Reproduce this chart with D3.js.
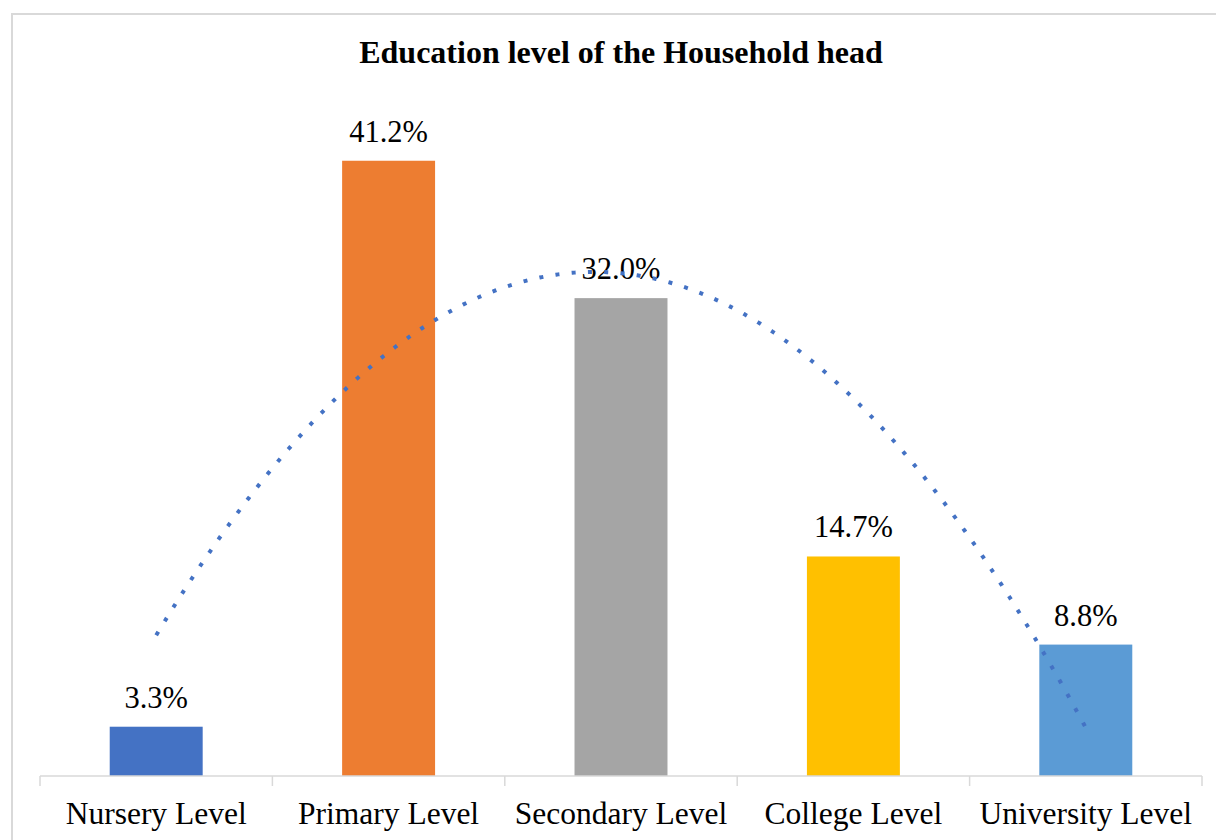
<!DOCTYPE html>
<html>
<head>
<meta charset="utf-8">
<script src="https://cdn.jsdelivr.net/npm/d3@7/dist/d3.min.js"></script>
<style>
  html, body { margin: 0; padding: 0; background: #ffffff; }
  svg { display: block; }
</style>
</head>
<body>
<svg id="chart" width="1216" height="840"></svg>
<script>
// Education level of household heads (share of respondents, %)
const categories = ["Nursery Level", "Primary Level", "Secondary Level", "College Level", "University Level"];
const shares = [3.3, 41.2, 32.0, 14.7, 8.8];
const barColors = ["#4472C4", "#ED7D31", "#A5A5A5", "#FFC000", "#5B9BD5"];
const chartTitle = "Education level of the Household head";

const W = 1216, H = 840;
const plot = { left: 40, right: 1202, top: 104, bottom: 776 };
const serif = "'Liberation Serif', 'Times New Roman', serif";

const svg = d3.select("#chart");

// outer chart frame
svg.append("rect")
  .attr("x", 12).attr("y", 14)
  .attr("width", W + 10).attr("height", H + 10)
  .attr("fill", "#ffffff")
  .attr("stroke", "#d9d9d9").attr("stroke-width", 2);

const x = d3.scaleBand()
  .domain(categories)
  .range([plot.left, plot.right])
  .paddingInner(0.6)
  .paddingOuter(0.3);

const y = d3.scaleLinear()
  .domain([0, 45])
  .range([plot.bottom, plot.top]);

// title
svg.append("text")
  .attr("x", (plot.left + plot.right) / 2)
  .attr("y", 63)
  .attr("text-anchor", "middle")
  .attr("font-family", serif)
  .attr("font-weight", "bold")
  .attr("font-size", 32)
  .attr("fill", "#000")
  .text(chartTitle);

// bars
svg.append("g").selectAll("rect")
  .data(categories)
  .join("rect")
  .attr("x", d => x(d))
  .attr("width", x.bandwidth())
  .attr("y", (d, i) => y(shares[i]))
  .attr("height", (d, i) => y(0) - y(shares[i]))
  .attr("fill", (d, i) => barColors[i]);

// category axis along the baseline, with tick marks between categories
const axisG = svg.append("g");
axisG.append("line")
  .attr("x1", plot.left).attr("x2", plot.right)
  .attr("y1", plot.bottom).attr("y2", plot.bottom)
  .attr("stroke", "#d9d9d9").attr("stroke-width", 1.5);
const boundaries = d3.range(categories.length + 1).map(i => plot.left + i * (plot.right - plot.left) / categories.length);
axisG.selectAll("line.tick")
  .data(boundaries)
  .join("line")
  .attr("class", "tick")
  .attr("x1", d => d).attr("x2", d => d)
  .attr("y1", plot.bottom).attr("y2", plot.bottom + 10)
  .attr("stroke", "#d9d9d9").attr("stroke-width", 1.5);
axisG.selectAll("text")
  .data(categories)
  .join("text")
  .attr("x", d => x(d) + x.bandwidth() / 2)
  .attr("y", 824)
  .attr("text-anchor", "middle")
  .attr("font-family", serif)
  .attr("font-size", 31.5)
  .attr("fill", "#000")
  .text(d => d);

// second-order polynomial trendline (least squares over category positions 1..n)
function quadFit(ys) {
  const n = ys.length;
  const xs = d3.range(1, n + 1);
  const mx = d3.mean(xs);
  const t = xs.map(v => v - mx);
  const S2 = d3.sum(t, v => v * v), S4 = d3.sum(t, v => v ** 4);
  const Sy = d3.sum(ys), Sty = d3.sum(t, (v, i) => v * ys[i]), St2y = d3.sum(t, (v, i) => v * v * ys[i]);
  const b = Sty / S2;
  const c = (n * St2y - S2 * Sy) / (n * S4 - S2 * S2);
  const a = (Sy - c * S2) / n;
  return pos => { const u = pos - mx; return a + b * u + c * u * u; };
}
const trend = quadFit(shares);
const posToX = d3.scaleLinear()
  .domain([1, categories.length])
  .range([x(categories[0]) + x.bandwidth() / 2, x(categories[categories.length - 1]) + x.bandwidth() / 2]);
const trendPts = d3.range(0, 401).map(k => 1 + k * (categories.length - 1) / 400);

// data labels
svg.append("g").selectAll("text")
  .data(categories)
  .join("text")
  .attr("x", d => x(d) + x.bandwidth() / 2)
  .attr("y", (d, i) => y(shares[i]) - 19)
  .attr("text-anchor", "middle")
  .attr("font-family", serif)
  .attr("font-size", 30.5)
  .attr("fill", "#000")
  .text((d, i) => shares[i].toFixed(1) + "%");

svg.append("path")
  .datum(trendPts)
  .attr("d", d3.line().x(p => posToX(p)).y(p => y(trend(p))).curve(d3.curveLinear))
  .attr("fill", "none")
  .attr("stroke", "#4472C4")
  .attr("stroke-width", 4)
  .attr("stroke-dasharray", "4 12.3");
</script>
</body>
</html>
